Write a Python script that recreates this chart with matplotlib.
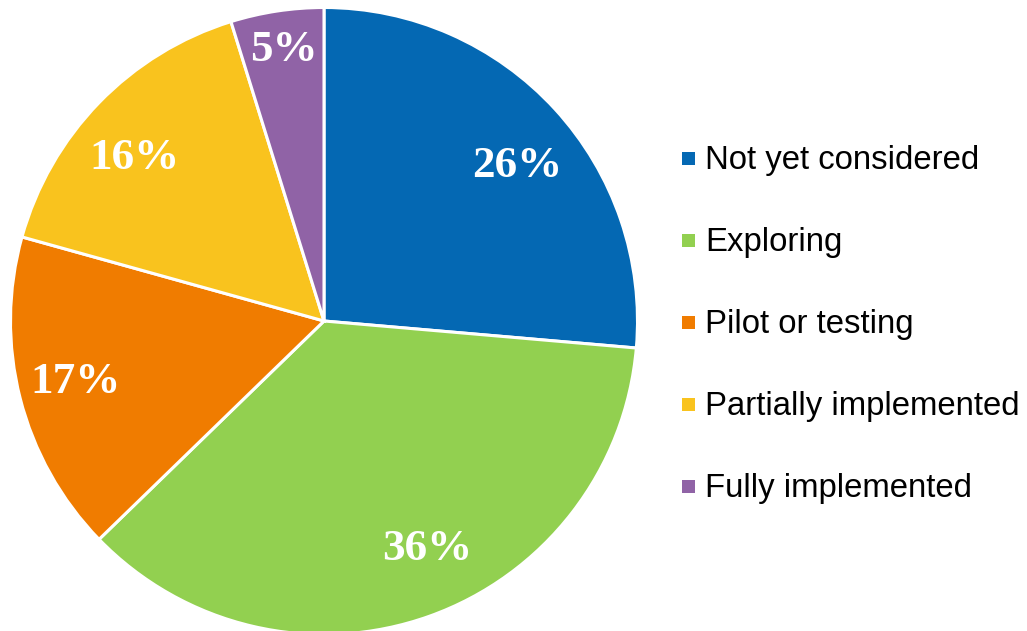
import numpy as np
import matplotlib
matplotlib.use("Agg")
import matplotlib.pyplot as plt
from matplotlib.patches import Rectangle

categories = ["Not yet considered", "Exploring", "Pilot or testing",
              "Partially implemented", "Fully implemented"]
values = [26.4, 36.4, 16.6, 15.9, 4.8]
labels = ["26%", "36%", "17%", "16%", "5%"]
colors = ["#0468B3", "#92D050", "#F07C00", "#F9C31E", "#9063A6"]
# label placement (style): distance from centre and angular nudge (deg)
label_dist = [0.79, 0.80, 0.815, 0.796, 0.874]
label_shift = [-3.9, 4.8, -0.4, 3.4, -0.2]

W, H = 1027, 631
fig = plt.figure(figsize=(W / 100, H / 100), dpi=100)
cx, cy, r = 324, 321, 313.5
ax = fig.add_axes([(cx - r) / W, (H - cy - r) / H, 2 * r / W, 2 * r / H])

wedges, _ = ax.pie(values, colors=colors, startangle=90, counterclock=False,
                   radius=1, wedgeprops=dict(edgecolor="white", linewidth=2.2))
for w in wedges:
    w.set_clip_on(False)
ax.set_xlim(-1, 1)
ax.set_ylim(-1, 1)
ax.set_aspect("equal")
ax.axis("off")

total = sum(values)
start = 90.0
for v, lab, d, sh in zip(values, labels, label_dist, label_shift):
    span = 360 * v / total
    mid = np.deg2rad(start - span / 2 + sh)
    ax.text(d * np.cos(mid), d * np.sin(mid), lab, ha="center", va="center",
            color="white", fontsize=32.5, fontweight="bold",
            family="Liberation Serif")
    start -= span

# legend
for i, (cat, col) in enumerate(zip(categories, colors)):
    yc = 158 + 82 * i
    fig.patches.append(Rectangle(((682) / W, (H - yc - 6.5) / H), 13 / W, 13 / H,
                                 transform=fig.transFigure, facecolor=col,
                                 edgecolor="none"))
    fig.text(705 / W, (H - (yc + 11)) / H, cat, ha="left", va="baseline",
             fontsize=23.7, family="Liberation Sans", color="black")

fig.savefig("out.png", dpi=100)
